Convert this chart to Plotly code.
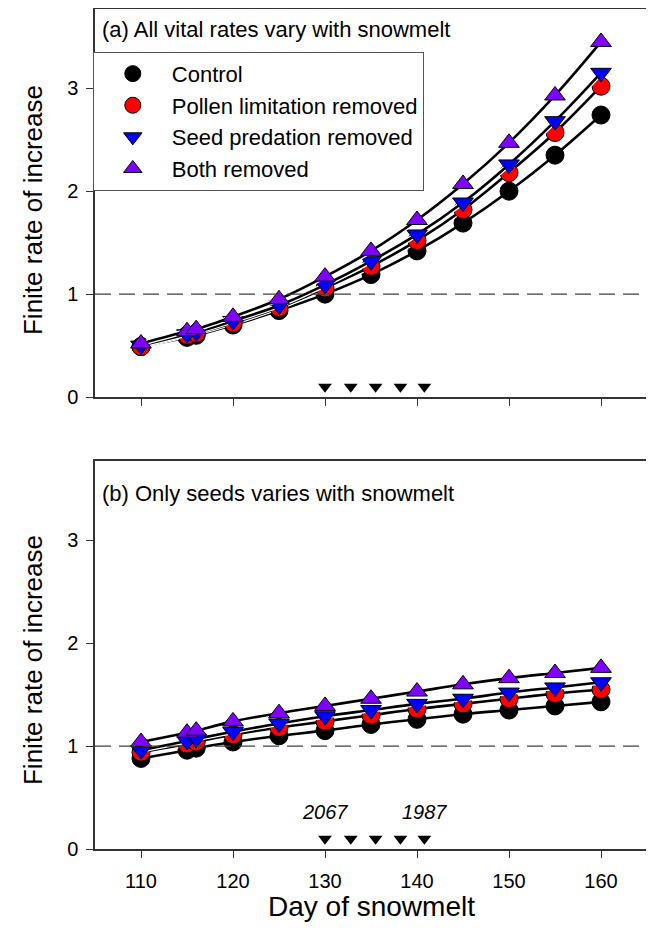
import plotly.graph_objects as go

days = [110, 115, 116, 120, 125, 130, 135, 140, 145, 150, 155, 160]

series_names = ["Control", "Pollen limitation removed", "Seed predation removed", "Both removed"]

# Panel (a): all vital rates vary with snowmelt
a_control = [0.49, 0.58, 0.60, 0.70, 0.84, 1.00, 1.19, 1.42, 1.69, 2.00, 2.35, 2.74]
a_pollen = [0.49, 0.60, 0.62, 0.72, 0.87, 1.06, 1.27, 1.52, 1.82, 2.18, 2.57, 3.02]
a_seed = [0.50, 0.61, 0.63, 0.74, 0.89, 1.09, 1.32, 1.58, 1.89, 2.26, 2.68, 3.15]
a_both = [0.52, 0.64, 0.66, 0.78, 0.95, 1.17, 1.42, 1.72, 2.07, 2.47, 2.93, 3.45]

# Panel (b): only seeds vary with snowmelt
b_control = [0.88, 0.96, 0.98, 1.04, 1.10, 1.15, 1.21, 1.26, 1.31, 1.35, 1.39, 1.43]
b_pollen = [0.94, 1.02, 1.04, 1.11, 1.18, 1.24, 1.30, 1.36, 1.41, 1.46, 1.51, 1.55]
b_seed = [0.96, 1.05, 1.07, 1.14, 1.22, 1.29, 1.35, 1.41, 1.46, 1.52, 1.57, 1.62]
b_both = [1.04, 1.13, 1.15, 1.24, 1.32, 1.39, 1.46, 1.53, 1.60, 1.66, 1.71, 1.76]

# snowmelt-date arrows (years 2067 ... 1987)
arrow_days = [130, 132.8, 135.5, 138.2, 140.8]
arrow_level = [0.10, 0.10, 0.10, 0.10, 0.10]
arrow_labels = ["2067", "1987"]
arrow_label_days = [130, 140.8]

x_ticks = [110, 120, 130, 140, 150, 160]
y_ticks = [0, 1, 2, 3]

colors = ["#000000", "#ff0000", "#0000ff", "#8000ff"]
symbols = ["circle", "circle", "triangle-down", "triangle-up"]

FONT = "Liberation Sans, Arial, sans-serif"

fig = go.Figure()

panels = [
    ("x", "y", [a_control, a_pollen, a_seed, a_both], True),
    ("x2", "y2", [b_control, b_pollen, b_seed, b_both], False),
]

for xa, ya, data, show in panels:
    for i, vals in enumerate(data):
        fig.add_trace(go.Scatter(x=days, y=vals, xaxis=xa, yaxis=ya, mode="lines",
                                 line=dict(color="white", width=5, shape="spline"),
                                 showlegend=False, hoverinfo="skip"))
        fig.add_trace(go.Scatter(x=days, y=vals, xaxis=xa, yaxis=ya, mode="lines",
                                 line=dict(color="black", width=2.6, shape="spline"),
                                 showlegend=False, hoverinfo="skip"))
        fig.add_trace(go.Scatter(x=days, y=vals, xaxis=xa, yaxis=ya, mode="markers",
                                 name=series_names[i], showlegend=show,
                                 marker=dict(symbol=symbols[i], color=colors[i], size=18,
                                             line=dict(color="black", width=1))))
    fig.add_trace(go.Scatter(x=arrow_days, y=arrow_level, xaxis=xa, yaxis=ya, mode="markers",
                             marker=dict(symbol="triangle-down", color="black", size=12),
                             showlegend=False, hoverinfo="skip"))

# year labels (bottom panel)
for d, lab in zip(arrow_label_days, arrow_labels):
    fig.add_annotation(x=d, y=0.36, xref="x2", yref="y2", text="<i>" + lab + "</i>",
                       xanchor="center", yanchor="middle",
                       showarrow=False, font=dict(family=FONT, size=20, color="black"))

# reference lines at lambda = 1
for xr, yr in [("x", "y"), ("x2", "y2")]:
    fig.add_shape(type="line", xref=xr + " domain", yref=yr, x0=0, x1=1, y0=1, y1=1,
                  line=dict(color="#404040", width=1.2, dash="16px,8px"))

fig.add_annotation(x=0.009, y=0.946, xref="x domain", yref="y domain",
                   xanchor="left", yanchor="middle",
                   text="(a) All vital rates vary with snowmelt", showarrow=False,
                   font=dict(family=FONT, size=22, color="black"))
fig.add_annotation(x=0.009, y=0.9175, xref="x2 domain", yref="y2 domain",
                   xanchor="left", yanchor="middle",
                   text="(b) Only seeds varies with snowmelt", showarrow=False,
                   font=dict(family=FONT, size=22, color="black"))

# axis titles
fig.add_annotation(x=-0.1123, y=0.7607, xref="paper", yref="paper", textangle=-90,
                   xanchor="center", yanchor="middle",
                   text="Finite rate of increase", showarrow=False,
                   font=dict(family=FONT, size=26, color="black"))
fig.add_annotation(x=-0.1123, y=0.225, xref="paper", yref="paper", textangle=-90,
                   xanchor="center", yanchor="middle",
                   text="Finite rate of increase", showarrow=False,
                   font=dict(family=FONT, size=26, color="black"))
fig.add_annotation(x=0.5, y=-0.0679, xref="paper", yref="paper",
                   xanchor="center", yanchor="middle",
                   text="Day of snowmelt", showarrow=False,
                   font=dict(family=FONT, size=28, color="black"))

axis_common = dict(showline=True, linecolor="#333333", linewidth=1.5, mirror=True,
                   ticks="outside", ticklen=7, tickcolor="#333333", tickwidth=1.3,
                   showgrid=False, zeroline=False, automargin=False,
                   tickfont=dict(family=FONT, size=20, color="black"))

fig.update_layout(
    width=646, height=926,
    margin=dict(l=87, r=7, t=1, b=85),
    paper_bgcolor="white", plot_bgcolor="white",
    showlegend=True,
    legend=dict(x=-0.004, y=0.949, xanchor="left", yanchor="top",
                bordercolor="#555555", borderwidth=1, bgcolor="white",
                font=dict(family=FONT, size=22, color="black"),
                itemwidth=68, tracegroupgap=0),
    xaxis=dict(domain=[0, 1], anchor="y", range=[105, 165], tickvals=x_ticks,
               showticklabels=False, **axis_common),
    yaxis=dict(domain=[0.538, 1], anchor="x", range=[0, 3.77], tickvals=y_ticks,
               ticklabelstandoff=4, **axis_common),
    xaxis2=dict(domain=[0, 1], anchor="y2", range=[105, 165], tickvals=x_ticks,
                ticklabelstandoff=6, **axis_common),
    yaxis2=dict(domain=[0, 0.4619], anchor="x2", range=[0, 3.77], tickvals=y_ticks,
                ticklabelstandoff=4, **axis_common),
)

fig.write_html("out.html")
